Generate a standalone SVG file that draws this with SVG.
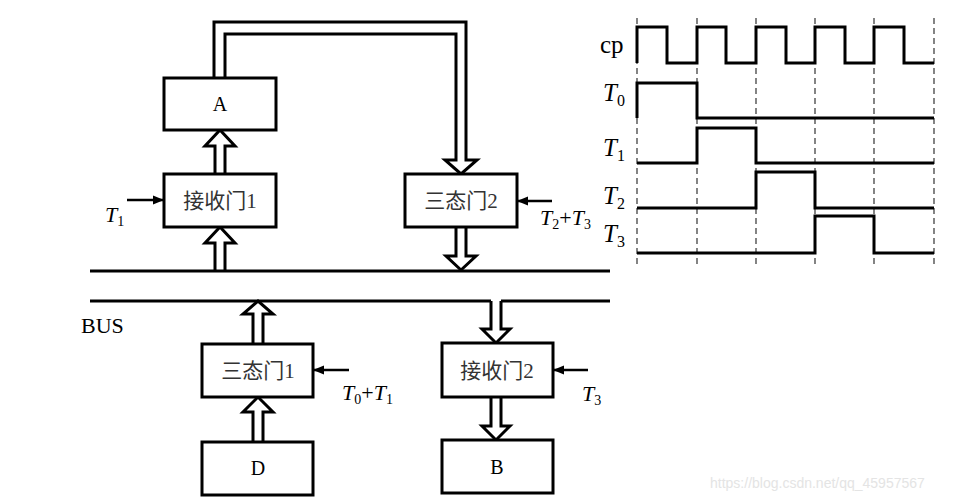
<svg xmlns="http://www.w3.org/2000/svg" width="963" height="504" viewBox="0 0 963 504">
<defs>
<marker id="ah" viewBox="0 0 10 10" refX="9" refY="5" markerWidth="4.5" markerHeight="4.5" orient="auto" markerUnits="strokeWidth">
<path d="M0,1 L10,5 L0,9 Z" fill="#000"/>
</marker>
</defs>
<style>
.box{fill:#fff;stroke:#000;stroke-width:3}
.pipe{fill:none;stroke:#000;stroke-width:3;stroke-linejoin:miter}
.bus{stroke:#000;stroke-width:3;fill:none}
.ctl{stroke:#000;stroke-width:2.5;fill:none;marker-end:url(#ah)}
.cn{font-family:"Liberation Serif","Noto Sans CJK SC",serif;font-size:21px;fill:#333;text-anchor:middle}
.lt{font-family:"Liberation Serif",serif;font-size:20px;fill:#000;text-anchor:middle}
.tl{font-family:"Liberation Serif",serif;font-size:22px;fill:#000}
.big{font-size:25px}
.ti{font-style:italic}
.sub{font-size:14px}
.bsub{font-size:16px}
.dash{stroke:#333;stroke-width:1.2;stroke-dasharray:6,4;fill:none}
.sig{stroke:#000;stroke-width:3;fill:none}
.wm{font-family:"Liberation Sans",sans-serif;font-size:14px;fill:#e4e4e4}
</style>
<rect width="963" height="504" fill="#fff"/>

<g id="connectors">
<path class="bus" d="M90,271 H610"/>
<path class="bus" d="M90,301 H491 M501,301 H610"/>
<path class="pipe" d="M225,78 V34 H456 V160 H445 L461,174 L477,160 H466 V22 H214 V78"/>
<path class="pipe" d="M215,174 V146 H205 L220,130 L235,146 H225 V174"/>
<path class="pipe" d="M215,271 V243 H205 L220,227 L235,243 H225 V271"/>
<path class="pipe" d="M456,227 V256 H446 L461,270 L476,256 H466 V227"/>
<path class="pipe" d="M491,301 V329 H482 L496,343 L510,329 H501 V301"/>
<path class="pipe" d="M253,344 V314 H243 L258,301 L273,314 H263 V344"/>
<path class="pipe" d="M253,442 V412 H243 L258,397 L273,412 H263 V442"/>
<path class="pipe" d="M491,397 V426 H482 L496,440 L510,426 H501 V397"/>
<path class="ctl" d="M127,200 H163"/>
<path class="ctl" d="M552,201 H518"/>
<path class="ctl" d="M349,370 H314"/>
<path class="ctl" d="M588,370 H554"/>
</g>

<g id="A"><rect class="box" x="164" y="78" width="112" height="52"/><text class="lt" x="220" y="111">A</text></g>
<g id="recv1"><rect class="box" x="164" y="174" width="112" height="53"/><text class="cn" x="220" y="208">接收门1</text></g>
<g id="tri2"><rect class="box" x="405" y="174" width="112" height="53"/><text class="cn" x="461" y="208">三态门2</text></g>
<g id="tri1"><rect class="box" x="202" y="344" width="111" height="53"/><text class="cn" x="258" y="378">三态门1</text></g>
<g id="D"><rect class="box" x="202" y="442" width="111" height="53"/><text class="lt" x="258" y="475">D</text></g>
<g id="recv2"><rect class="box" x="442" y="343" width="111" height="54"/><text class="cn" x="497" y="378">接收门2</text></g>
<g id="B"><rect class="box" x="442" y="440" width="111" height="53"/><text class="lt" x="497" y="474">B</text></g>

<g id="labels">
<text class="tl" x="81" y="333">BUS</text>
<text class="tl" x="105" y="222"><tspan class="ti">T</tspan><tspan class="sub" dy="4">1</tspan></text>
<text class="tl" x="540" y="225"><tspan class="ti">T</tspan><tspan class="sub" dy="4">2</tspan><tspan dy="-4">+</tspan><tspan class="ti">T</tspan><tspan class="sub" dy="4">3</tspan></text>
<text class="tl" x="342" y="400"><tspan class="ti">T</tspan><tspan class="sub" dy="4">0</tspan><tspan dy="-4">+</tspan><tspan class="ti">T</tspan><tspan class="sub" dy="4">1</tspan></text>
<text class="tl" x="582" y="401"><tspan class="ti">T</tspan><tspan class="sub" dy="4">3</tspan></text>
</g>

<g id="timing">
<path class="dash" d="M637,18 V265 M697,18 V265 M756,18 V265 M815,18 V265 M874,18 V265 M934,18 V265"/>
<path class="sig" d="M637,63 V27 H667 V63 H697 V27 H726 V63 H756 V27 H786 V63 H815 V27 H845 V63 H874 V27 H904 V63 H934"/>
<path class="sig" d="M637,118 V83 H697 V118 H934"/>
<path class="sig" d="M637,163 H697 V128 H756 V163 H934"/>
<path class="sig" d="M637,208 H756 V172 H815 V208 H934"/>
<path class="sig" d="M637,253 H815 V216 H874 V253 H934"/>
<text class="tl big" x="600" y="53">cp</text>
<text class="tl big" x="603" y="101"><tspan class="ti">T</tspan><tspan class="bsub" dy="5">0</tspan></text>
<text class="tl big" x="603" y="156"><tspan class="ti">T</tspan><tspan class="bsub" dy="5">1</tspan></text>
<text class="tl big" x="603" y="204"><tspan class="ti">T</tspan><tspan class="bsub" dy="5">2</tspan></text>
<text class="tl big" x="603" y="242"><tspan class="ti">T</tspan><tspan class="bsub" dy="5">3</tspan></text>
</g>

<text class="wm" x="710" y="488">https://blog.csdn.net/qq_45957567</text>
</svg>
